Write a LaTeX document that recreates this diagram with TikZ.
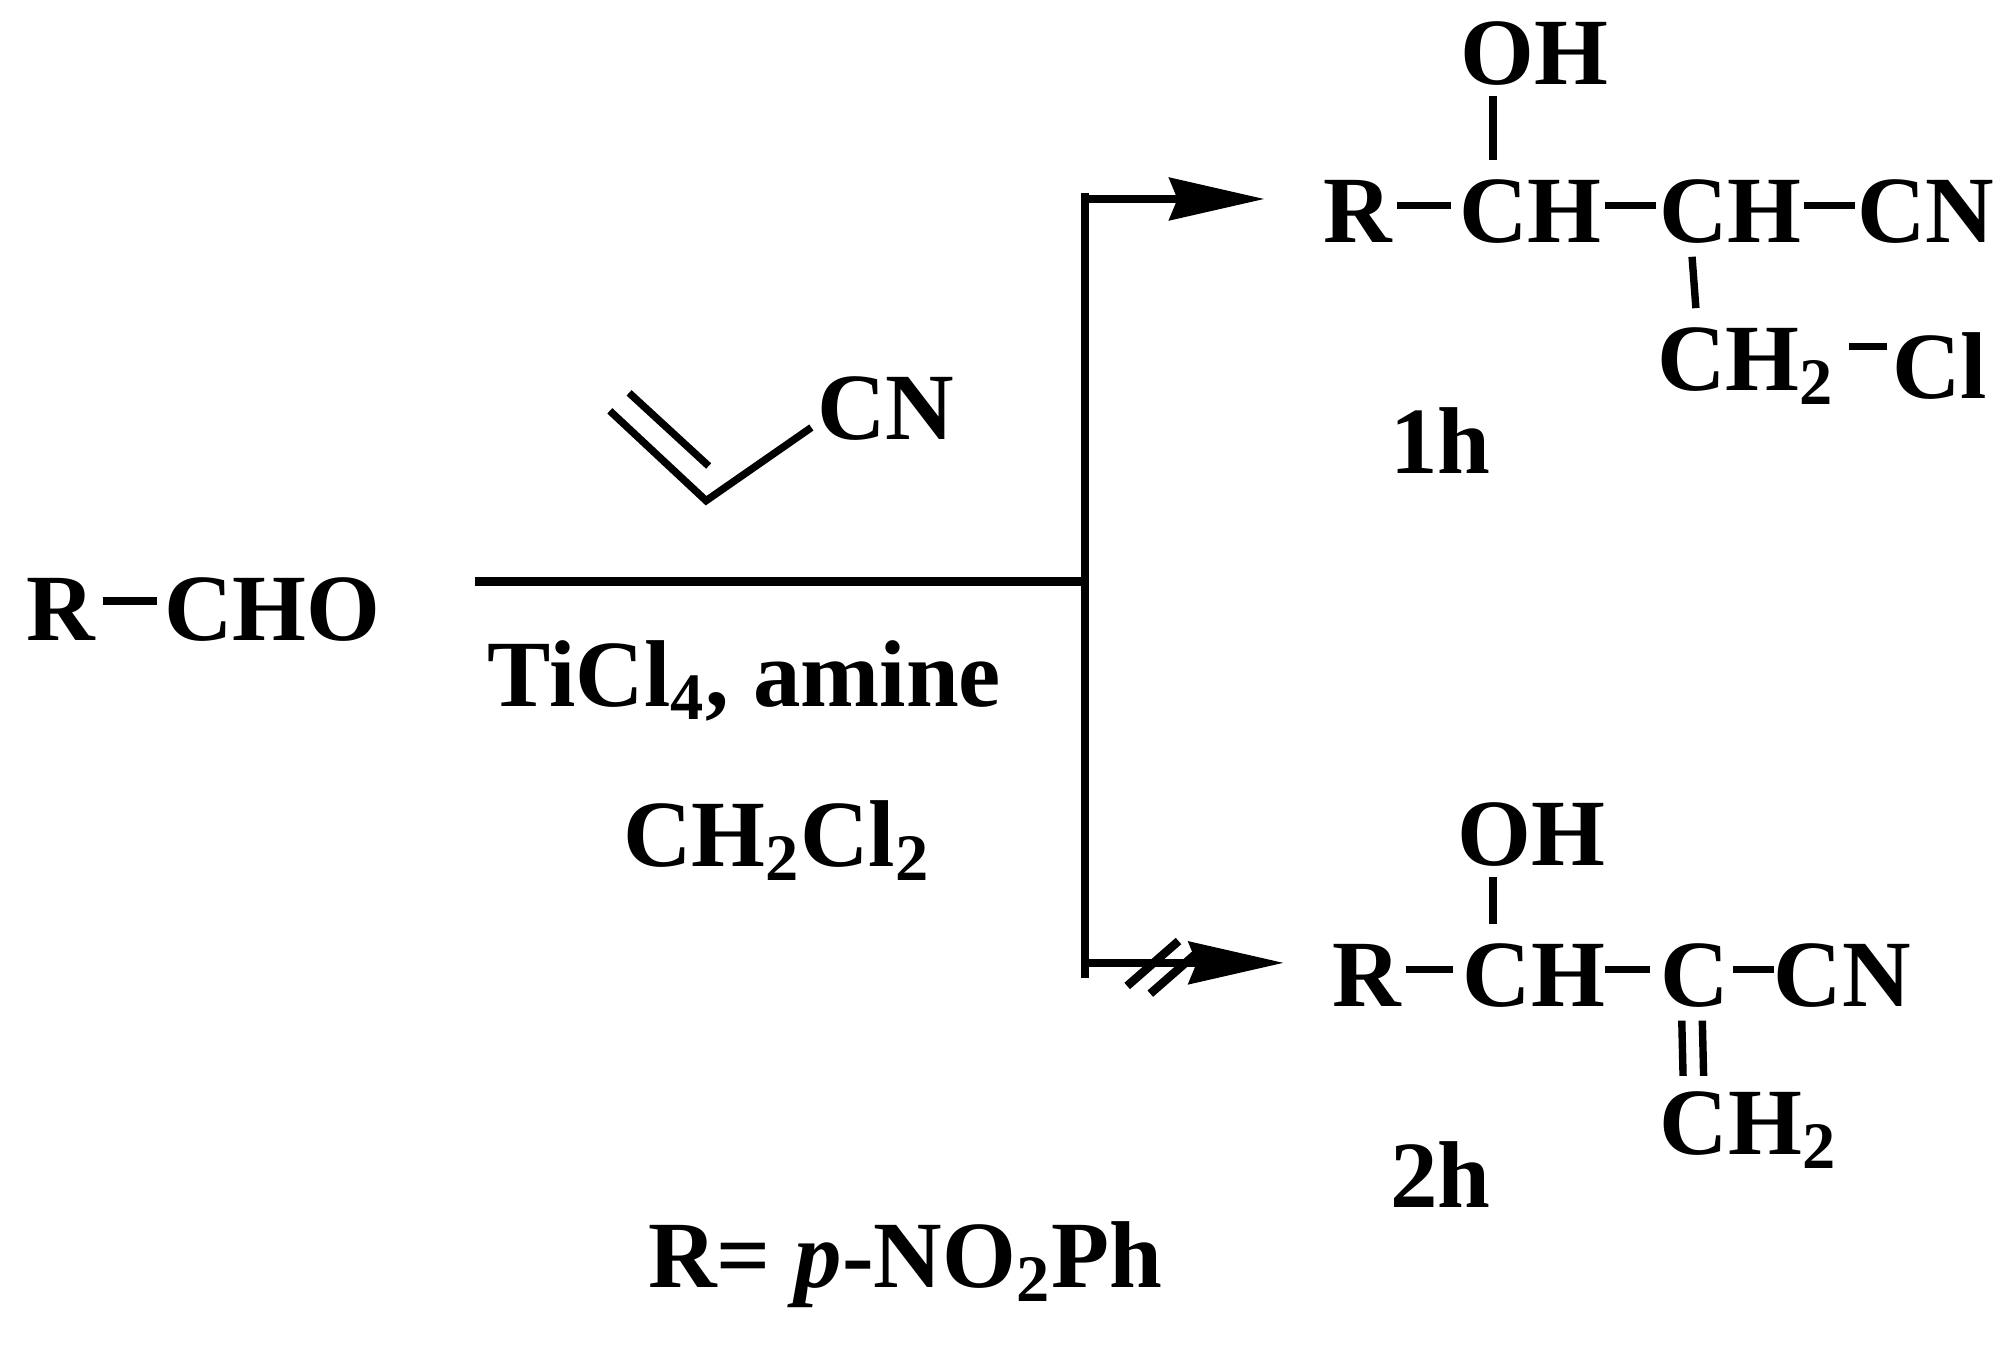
\documentclass[tikz,border=0pt]{standalone}
\usepackage{fontspec}
\setmainfont{Liberation Serif}
\usetikzlibrary{arrows.meta}
\tikzset{t/.style={font=\fontsize{27}{30}\selectfont\bfseries,inner sep=1pt},
 bond/.style={line width=2.1pt},
 rx/.style={line width=2.4pt},
 arr/.style={rx,-{Stealth[length=0.95cm,width=0.42cm,inset=0.08cm]}}}
\begin{document}
\begin{tikzpicture}[x=0.01284cm,y=-0.01284cm]
\useasboundingbox (0,0) rectangle (1568,1067);
% reactant
\node[t] (r0) at (47,475) {R};
\node[t] (cho) at (212,475) {CHO};
\draw[bond] (80,468) -- (122,468);
% reaction lines
\coordinate (ls) at (370,453);
\coordinate (lj) at (845,453);
\coordinate (vt) at (845,150);
\coordinate (vb) at (845,762);
\draw[rx] (ls) -- (lj);
\draw[rx] (vt) -- (vb);
\coordinate (at0) at (845,155);
\coordinate (at1) at (985,155);
\coordinate (ab0) at (845,750);
\coordinate (ab1) at (1000,750);
\draw[arr] (at0) -- (at1);
\draw[arr] (ab0) -- (ab1);
\draw[rx] (878,768) -- (918,733);
\draw[rx] (896,774) -- (936,739);
% acrylonitrile
\coordinate (a1) at (475,320);
\coordinate (a2) at (550,390);
\coordinate (a3) at (632,333);
\node[t] (cn0) at (690,318) {CN};
\draw[bond] (a1) -- (a2) -- (a3);
\draw[bond] (490,306) -- (552,363);
\node[t] (ti) at (580,530) {TiCl$_\mathbf{4}$, amine};
\node[t] (dcm) at (605,655) {CH$_\mathbf{2}$Cl$_\mathbf{2}$};
\node[t] (rdef) at (705,985) {R= \textit{p}-NO$_\mathbf{2}$Ph};
% product 1h
\node[t] (oh1) at (1195,42) {OH};
\node[t] (r1) at (1058,165) {R};
\node[t] (ch1) at (1192,165) {CH};
\node[t] (ch2) at (1348,165) {CH};
\node[t] (cn1) at (1500,165) {CN};
\node[t] (ch2a) at (1360,285) {CH$_\mathbf{2}$};
\node[t,anchor=east] (cl) at (1551,285) {Cl};
\node[t] (l1) at (1122,343) {1h};
\draw[bond] (1163,75) -- (1163,125);
\draw[bond] (1088,160) -- (1130,160);
\draw[bond] (1250,160) -- (1290,160);
\draw[bond] (1405,160) -- (1445,160);
\draw[bond] (1318,200) -- (1321,240);
\draw[bond] (1440,270) -- (1470,270);
% product 2h
\node[t] (oh2) at (1193,650) {OH};
\node[t] (r2) at (1065,760) {R};
\node[t] (ch3) at (1195,760) {CH};
\node[t] (c2) at (1320,760) {C};
\node[t] (cn2) at (1435,760) {CN};
\node[t] (ch2b) at (1362,880) {CH$_\mathbf{2}$};
\node[t] (l2) at (1122,915) {2h};
\draw[bond] (1163,683) -- (1163,720);
\draw[bond] (1095,755) -- (1132,755);
\draw[bond] (1250,755) -- (1285,755);
\draw[bond] (1350,755) -- (1382,755);
\draw[bond] (1310,795) -- (1311,838);
\draw[bond] (1326,795) -- (1327,838);
\end{tikzpicture}
\end{document}
